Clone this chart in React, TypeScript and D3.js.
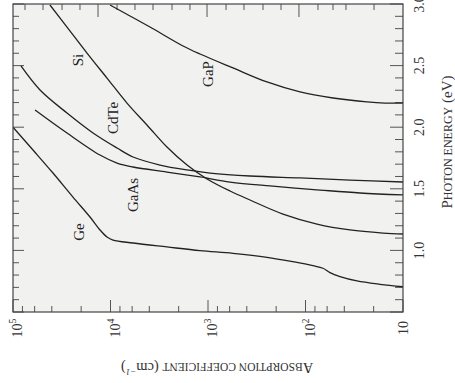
import React from "react";
import * as d3 from "d3";

// ---- data (log10 of absorption coefficient in cm^-1, photon energy in eV) ----
const geLogAlpha = [5.0, 4.795, 4.59, 4.385, 4.21, 4.108, 4.036, 3.974, 3.769, 3.421, 3.082, 2.744, 2.395, 2.128, 1.923, 1.821, 1.749, 1.646, 1.472, 1.236, 1.0];
const geEnergy = [2.0, 1.815, 1.628, 1.433, 1.271, 1.166, 1.109, 1.084, 1.06, 1.028, 0.998, 0.976, 0.944, 0.908, 0.876, 0.855, 0.819, 0.787, 0.752, 0.725, 0.705];

const siLogAlpha = [4.621, 4.446, 4.241, 4.036, 3.831, 3.626, 3.421, 3.215, 3.01, 2.774, 2.569, 2.231, 1.882, 1.544, 1.205, 1.0];
const siEnergy = [2.992, 2.813, 2.602, 2.399, 2.196, 2.018, 1.839, 1.693, 1.58, 1.482, 1.409, 1.295, 1.214, 1.166, 1.141, 1.133];

const cdteLogAlpha = [4.918, 4.723, 4.446, 4.179, 3.933, 3.769, 3.492, 3.215, 2.979, 2.569, 2.056, 1.544, 1.0];
const cdteEnergy = [2.497, 2.302, 2.115, 1.953, 1.831, 1.758, 1.693, 1.653, 1.628, 1.604, 1.588, 1.571, 1.555];

const gaasLogAlpha = [4.774, 4.446, 4.108, 3.933, 3.769, 3.421, 3.082, 2.774, 2.364, 1.851, 1.441, 1.0];
const gaasEnergy = [2.14, 1.953, 1.774, 1.709, 1.677, 1.636, 1.596, 1.555, 1.523, 1.49, 1.466, 1.45];

const gapLogAlpha = [4.005, 3.8, 3.595, 3.256, 3.082, 2.744, 2.395, 2.056, 1.718, 1.369, 1.185, 1.0];
const gapEnergy = [2.992, 2.903, 2.813, 2.659, 2.594, 2.481, 2.367, 2.286, 2.237, 2.205, 2.196, 2.196];

const seriesNames = ["Ge", "Si", "CdTe", "GaAs", "GaP"];
const labelLogAlpha = [4.328, 4.338, 3.974, 3.774, 3.005];
const labelEnergy = [1.149, 2.545, 2.075, 1.45, 2.432];

const xTickExponents = [5, 4, 3, 2, 1];
const xMinorMultipliers = [2, 4, 6, 8];
const yTickLabels = [1.0, 1.5, 2.0, 2.5, 3.0];
const topTickLogs = [4.877, 4.692, 4.497, 4.313, 4.128, 3.933, 3.749, 3.564, 3.369, 3.185, 3.01, 2.815, 2.631, 2.436, 2.251, 2.067, 1.872, 1.718, 1.585, 1.297];
const topTickMajor = [4.128, 3.01, 2.067];

const W = 455;
const H = 383;
const L = 13, R = 403, T = 4, B = 312;
const FONT = "'Liberation Serif', 'Times New Roman', serif";

export default function App() {
  const x = d3.scaleLog().domain([1e5, 10]).range([L, R]);
  const y = d3.scaleLinear().domain([0.5, 3.0]).range([B, T]);

  const line = d3
    .line<[number, number]>()
    .x((d) => x(Math.pow(10, d[0])))
    .y((d) => y(d[1]))
    .curve(d3.curveCatmullRom.alpha(0.5));

  const series: [number[], number[]][] = [
    [geLogAlpha, geEnergy],
    [siLogAlpha, siEnergy],
    [cdteLogAlpha, cdteEnergy],
    [gaasLogAlpha, gaasEnergy],
    [gapLogAlpha, gapEnergy],
  ];

  const eTicks = d3.range(5, 31).map((v) => v / 10);
  const isMajorE = (v: number) => Math.abs(v * 2 - Math.round(v * 2)) < 1e-6;

  const minorX: number[] = [];
  xTickExponents.slice(0, -1).forEach((e) => {
    xMinorMultipliers.forEach((m) => minorX.push(m * Math.pow(10, e - 1)));
  });

  const tickColor = "#555";

  return (
    <svg
      width={W}
      height={H}
      style={{ position: "absolute", left: 0, top: 0, background: "#fff" }}
      fontFamily={FONT}
    >
      <defs>
        <clipPath id="plot">
          <rect x={L} y={T} width={R - L} height={B - T} />
        </clipPath>
      </defs>
      <rect x={L} y={T} width={R - L} height={B - T} fill="#f1f1f0" />

      {/* left & right ticks */}
      {eTicks.map((v, i) => {
        const major = isMajorE(v);
        const yy = y(v);
        return (
          <g key={"e" + i} stroke={tickColor} strokeWidth={1}>
            <line x1={L} x2={L + (major ? 11 : 6)} y1={yy} y2={yy} />
            <line x1={R} x2={R - (major ? 13 : 8)} y1={yy} y2={yy} />
          </g>
        );
      })}

      {/* bottom ticks */}
      {xTickExponents.map((e) => (
        <line key={"xb" + e} x1={x(Math.pow(10, e))} x2={x(Math.pow(10, e))} y1={B} y2={B - 12} stroke={tickColor} />
      ))}
      {minorX.map((v, i) => (
        <line key={"xm" + i} x1={x(v)} x2={x(v)} y1={B} y2={B - 6} stroke={tickColor} />
      ))}

      {/* top ticks */}
      {topTickLogs.map((lv, i) => {
        const major = topTickMajor.includes(lv);
        const xx = x(Math.pow(10, lv));
        return <line key={"t" + i} x1={xx} x2={xx} y1={T} y2={T + (major ? 13 : 6)} stroke={tickColor} />;
      })}

      {/* curves */}
      <g clipPath="url(#plot)">
        {series.map(([la, en], i) => (
          <path
            key={"s" + i}
            d={line(la.map((v, j) => [v, en[j]] as [number, number])) || ""}
            fill="none"
            stroke="#222"
            strokeWidth={1.3}
          />
        ))}
      </g>

      <rect x={L} y={T} width={R - L} height={B - T} fill="none" stroke="#444" strokeWidth={1.2} />

      {/* curve labels */}
      {seriesNames.map((name, i) => (
        <text
          key={"l" + i}
          transform={`translate(${x(Math.pow(10, labelLogAlpha[i]))},${y(labelEnergy[i])}) rotate(-90)`}
          textAnchor="middle"
          dy="0.35em"
          fontSize={15}
          fill="#222"
        >
          {name}
        </text>
      ))}

      {/* right tick labels */}
      {yTickLabels.map((v) => (
        <text
          key={"yl" + v}
          transform={`translate(419,${y(v)}) rotate(-90)`}
          textAnchor="middle"
          dy="0.35em"
          fontSize={14}
          fill="#333"
        >
          {v.toFixed(1)}
        </text>
      ))}

      {/* bottom tick labels */}
      {xTickExponents.map((e) => {
        const hasSup = e > 1;
        const xx = x(Math.pow(10, e)) + (hasSup ? 9 : 4.5);
        return (
          <text
            key={"xl" + e}
            transform={`translate(${xx},328) rotate(-90)`}
            textAnchor="middle"
            fontSize={14}
            fill="#333"
          >
            10
            {hasSup ? (
              <tspan fontSize={10} dy={-6}>
                {e}
              </tspan>
            ) : null}
          </text>
        );
      })}

      {/* right axis title */}
      <text transform="translate(447,142) rotate(-90)" textAnchor="middle" dy="0.35em" fontSize={15} fill="#333">
        P<tspan fontSize={12}>HOTON ENERGY</tspan> (eV)
      </text>

      {/* bottom axis title (upside down) */}
      <text transform="translate(217,368) rotate(180)" textAnchor="middle" dy="0.35em" fontSize={14.5} fill="#333">
        A<tspan fontSize={11.5}>BSORPTION COEFFICIENT</tspan> (cm
        <tspan fontSize={9} dy={-6} fontStyle="italic">
          −1
        </tspan>
        <tspan dy={6}>)</tspan>
      </text>
    </svg>
  );
}
